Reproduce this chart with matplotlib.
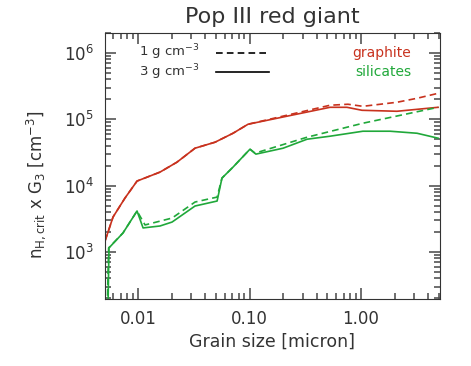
import matplotlib
matplotlib.use("Agg")
import matplotlib.pyplot as plt
import numpy as np
from matplotlib.ticker import LogLocator, FixedLocator, FixedFormatter, NullFormatter

# ---------------------------------------------------------------------------- #
# Values (grain size in micron, n_H,crit x G_3 in cm^-3)

graphite_a_3 = [0.00506, 0.00597, 0.00764, 0.0098, 0.01574, 0.02237, 0.03245,
                0.0491, 0.0711, 0.0970, 0.527, 0.748, 1.02, 2.10, 4.91]
graphite_n_3 = [1460, 3360, 6490, 11700, 15960, 22560, 36600,
                45100, 61500, 84100, 151400, 151400, 136500, 131900, 151400]

graphite_a_1 = [0.00506, 0.00597, 0.00764, 0.0098, 0.01574, 0.02237, 0.03245,
                0.0491, 0.0711, 0.0970, 0.527, 0.763, 1.04, 2.10, 3.18, 4.91]
graphite_n_1 = [1460, 3360, 6490, 11700, 15960, 22560, 36600,
                45100, 61500, 84100, 162600, 168300, 156700, 180300, 207000, 246000]

silicate_a_3 = [0.00538, 0.00549, 0.00733, 0.0098, 0.0111, 0.01574, 0.0202,
                0.03245, 0.0512, 0.0566, 0.0711, 0.101, 0.114, 0.200, 0.328,
                0.527, 1.04, 1.82, 3.18, 4.91]
silicate_n_3 = [150, 1150, 1930, 4140, 2300, 2460, 2820,
                4920, 5850, 12970, 18970, 35400, 29800, 36600, 50000,
                55500, 66000, 66000, 61500, 51800]

silicate_a_1 = [0.00530, 0.00545, 0.00733, 0.0098, 0.01156, 0.0202,
                0.03245, 0.0512, 0.0566, 0.0711, 0.101, 0.112, 0.328,
                1.04, 4.91]
silicate_n_1 = [150, 1150, 1930, 4140, 2550, 3240,
                5650, 6710, 12970, 18970, 35400, 30800, 53600,
                87100, 151400]

# ---------------------------------------------------------------------------- #

red = "#c8321e"
green = "#20a83a"
ink = "#333333"

plt.rcParams["font.family"] = "DejaVu Sans"
plt.rcParams["axes.edgecolor"] = ink

fig = plt.figure(figsize=(4.71, 3.66), dpi=100)
ax = fig.add_axes([0.223, 0.183, 0.711, 0.727])

ax.plot(graphite_a_1, graphite_n_1, color=red, lw=1.2, ls=(0, (4, 2.5)))
ax.plot(graphite_a_3, graphite_n_3, color=red, lw=1.2)
ax.plot(silicate_a_1, silicate_n_1, color=green, lw=1.2, ls=(0, (4, 2.5)))
ax.plot(silicate_a_3, silicate_n_3, color=green, lw=1.2)

ax.set_xscale("log")
ax.set_yscale("log")
ax.set_xlim(0.00506, 5.1)
ax.set_ylim(195, 2.0e6)

ax.xaxis.set_major_locator(FixedLocator([0.01, 0.1, 1.0]))
ax.xaxis.set_major_formatter(FixedFormatter(["0.01", "0.10", "1.00"]))
ax.xaxis.set_minor_locator(LogLocator(base=10, subs=np.arange(2, 10), numticks=20))
ax.xaxis.set_minor_formatter(NullFormatter())
ax.yaxis.set_major_locator(LogLocator(base=10, numticks=10))
ax.yaxis.set_minor_locator(LogLocator(base=10, subs=np.arange(2, 10), numticks=20))
ax.yaxis.set_minor_formatter(NullFormatter())

ax.tick_params(which="both", direction="in", top=True, right=True,
               color="#555555", labelcolor=ink, labelsize=12, width=1.2)
ax.tick_params(which="major", length=8, pad=8)
ax.tick_params(which="minor", length=4)

ax.set_title("Pop III red giant", fontsize=16, color=ink, pad=7)
ax.set_xlabel("Grain size [micron]", fontsize=12.5, color=ink, labelpad=3)
ax.set_ylabel(r"n$_{\rm H,crit}$ x G$_3$ [cm$^{-3}$]", fontsize=12, color=ink)
ax.yaxis.set_label_coords(-0.17, 0.43)

# legend drawn by hand like the original
ax.text(0.10, 0.928, r"1 g cm$^{-3}$", transform=ax.transAxes, fontsize=9.5,
        color=ink, ha="left", va="center")
ax.text(0.10, 0.852, r"3 g cm$^{-3}$", transform=ax.transAxes, fontsize=9.5,
        color=ink, ha="left", va="center")
ax.plot([0.33, 0.49], [0.925, 0.925], transform=ax.transAxes, color="black",
        lw=1.2, ls=(0, (4, 2.5)))
ax.plot([0.33, 0.49], [0.852, 0.852], transform=ax.transAxes, color="black",
        lw=1.2)

ax.text(0.915, 0.925, "graphite", transform=ax.transAxes, fontsize=10,
        color=red, ha="right", va="center")
ax.text(0.915, 0.852, "silicates", transform=ax.transAxes, fontsize=10,
        color=green, ha="right", va="center")

fig.savefig("out.png", dpi=100)
